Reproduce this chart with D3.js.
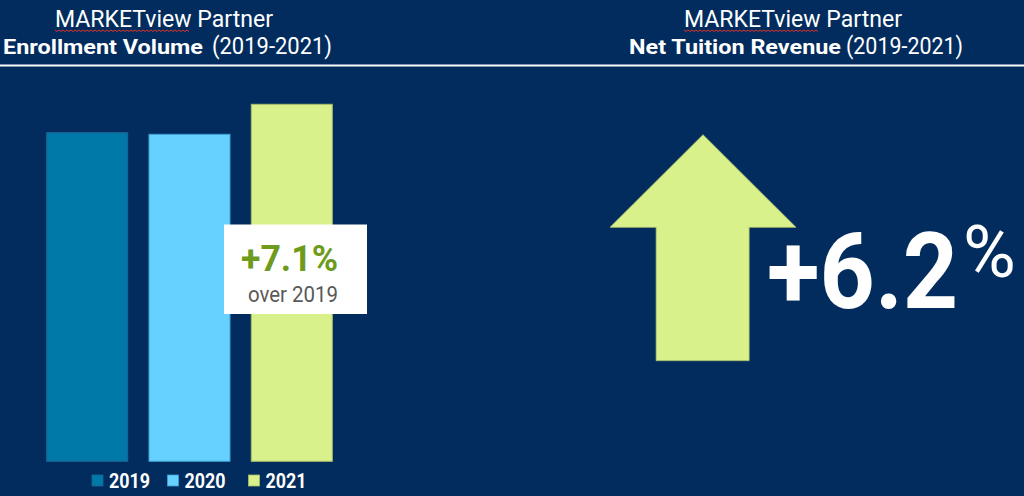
<!DOCTYPE html>
<html>
<head>
<meta charset="utf-8">
<script src="https://cdn.jsdelivr.net/npm/d3@7"></script>
<style>
  html, body { margin: 0; padding: 0; background: #012c5d; }
  svg { display: block; font-family: Roboto, "Noto Sans", sans-serif; }
</style>
</head>
<body>
<div id="chart"></div>
<script>
// data (enrollment indexed to 2019 = 100)
const years = ["2019", "2020", "2021"]
const enrollment = [100, 99.6, 107.1]
const barColors = ["#0079a8", "#66d1ff", "#d9f18a"]
const barStrokes = ["#1b6796", "#3f9fd2", "#a9bd6c"]
const enrollmentChange = "+7.1%"
const tuitionChange = "+6.2"

function drawChart() {

  const width = 1024
  const height = 496

  const svg = d3.select("#chart")
    .append("svg")
      .attr("width", width)
      .attr("height", height)

  svg.append("rect")
    .attr("width", width)
    .attr("height", height)
    .attr("fill", "#012c5d")

  // titles
  const titles = [
    { text: "MARKETview Partner", x: 55, y: 27, len: 218, weight: 400, squiggle: 135 },
    { text: "Enrollment Volume", x: 3, y: 54, len: 200, weight: 700 },
    { text: "(2019-2021)", x: 212, y: 54, len: 120, weight: 400 },
    { text: "MARKETview Partner", x: 684, y: 27, len: 218, weight: 400, squiggle: 135 },
    { text: "Net Tuition Revenue", x: 629, y: 54, len: 212, weight: 700 },
    { text: "(2019-2021)", x: 846, y: 54, len: 117, weight: 400 },
  ]

  svg.append("g")
    .selectAll("text")
    .data(titles)
    .join("text")
      .attr("x", d => d.x)
      .attr("y", d => d.y)
      .attr("fill", "#ffffff")
      .attr("font-size", d => d.weight == 700 ? 21 : 23)
      .attr("font-weight", d => d.weight)
      .attr("textLength", d => d.len)
      .attr("lengthAdjust", "spacingAndGlyphs")
      .text(d => d.text)

  // red spell-check squiggle under "MARKETview"
  svg.append("g")
    .selectAll("path")
    .data(titles.filter(d => d.squiggle))
    .join("path")
      .attr("d", d => {
        const pts = d3.range(0, d.squiggle + 1, 2).map((x, i) => [d.x + x, 30 + (i % 2 ? 1.5 : 0)])
        return d3.line()(pts)
      })
      .attr("fill", "none")
      .attr("stroke", "#e0322f")
      .attr("stroke-width", 1)

  // separator line
  svg.append("line")
    .attr("x1", 0)
    .attr("x2", width)
    .attr("y1", 65.5)
    .attr("y2", 65.5)
    .attr("stroke", "#ffffff")
    .attr("stroke-width", 2)

  // bars
  const xScale = d3.scaleBand()
    .domain(years)
    .range([46.7, 332.3])
    .paddingInner(0.208)
    .paddingOuter(0)

  const yScale = d3.scaleLinear()
    .domain([17.85, 107.1])
    .range([461.3, 104.3])

  svg.append("g")
    .selectAll("rect")
    .data(years)
    .join("rect")
      .attr("x", d => xScale(d))
      .attr("width", xScale.bandwidth())
      .attr("y", (d, i) => yScale(enrollment[i]))
      .attr("height", (d, i) => yScale(yScale.domain()[0]) - yScale(enrollment[i]))
      .attr("fill", (d, i) => barColors[i])
      .attr("stroke", (d, i) => barStrokes[i])
      .attr("stroke-width", 1)

  // callout box
  const box = svg.append("g")
  box.append("rect")
    .attr("x", 224)
    .attr("y", 224.5)
    .attr("width", 143)
    .attr("height", 89.5)
    .attr("fill", "#ffffff")
  box.append("text")
    .attr("x", 241)
    .attr("y", 271)
    .attr("font-size", 37)
    .attr("font-weight", 700)
    .attr("fill", "#6e9b1c")
    .attr("textLength", 97)
    .attr("lengthAdjust", "spacingAndGlyphs")
    .text(enrollmentChange)
  box.append("text")
    .attr("x", 248)
    .attr("y", 302)
    .attr("font-size", 22)
    .attr("fill", "#595959")
    .attr("textLength", 90)
    .attr("lengthAdjust", "spacingAndGlyphs")
    .text("over 2019")

  // legend
  const legend = svg.append("g")
    .selectAll("g")
    .data(years)
    .join("g")
      .attr("transform", (d, i) => `translate(${[92, 167.5, 248.5][i]}, 0)`)
  legend.append("rect")
    .attr("y", 475)
    .attr("width", 11)
    .attr("height", 11)
    .attr("fill", (d, i) => barColors[i])
    .attr("stroke", (d, i) => barStrokes[i])
    .attr("stroke-width", 0.8)
  legend.append("text")
    .attr("x", 17)
    .attr("y", 488)
    .attr("font-size", 20)
    .attr("font-weight", 700)
    .attr("fill", "#ffffff")
    .attr("textLength", 41)
    .attr("lengthAdjust", "spacingAndGlyphs")
    .text(d => d)

  // arrow for net tuition revenue, unit shape scaled into its box
  const ax = d3.scaleLinear().domain([0, 1]).range([610, 796])
  const ay = d3.scaleLinear().domain([0, 1]).range([134.7, 360.7])
  const arrowShape = [[0.5, 0], [1, 0.41], [0.748, 0.41], [0.748, 1],
                      [0.248, 1], [0.248, 0.41], [0, 0.41]]
  svg.append("path")
    .attr("d", d3.line().x(d => ax(d[0])).y(d => ay(d[1]))(arrowShape) + "Z")
    .attr("fill", "#d9f18a")
    .attr("stroke", "#a9bd6c")
    .attr("stroke-width", 0.8)

  // big figure, squeezed horizontally to the narrower face of the original
  svg.append("text")
    .attr("transform", "translate(767, 308) scale(0.91, 1)")
    .attr("font-size", 106)
    .attr("font-weight", 700)
    .attr("fill", "#ffffff")
    .text(tuitionChange)
  svg.append("text")
    .attr("transform", "translate(963, 277)")
    .attr("font-size", 72)
    .attr("font-weight", 400)
    .attr("fill", "#ffffff")
    .text("%")
}
drawChart()
</script>
</body>
</html>
